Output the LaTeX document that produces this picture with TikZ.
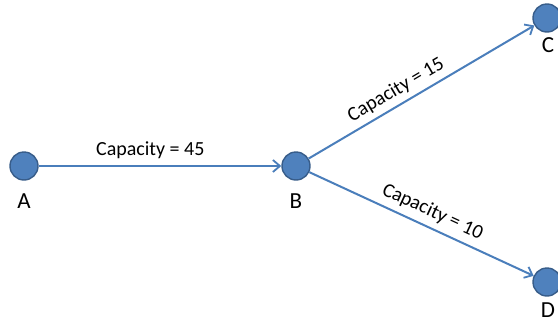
\documentclass[tikz,border=0pt]{standalone}
\usepackage{fontspec}
\setmainfont{Carlito}
\usetikzlibrary{arrows.meta}
\definecolor{nodefill}{HTML}{4F81BD}
\definecolor{nodeedge}{HTML}{385D8A}
\definecolor{edgecol}{HTML}{4A7EBB}
\tikzset{
  vert/.style={circle, fill=nodefill, draw=nodeedge, line width=1.4pt, minimum size=28pt, inner sep=0pt},
  vlabel/.style={font=\fontsize{23}{25}\selectfont, text=black},
  flow/.style={draw=edgecol, line width=2pt, -{Straight Barb[length=7pt,width=12pt,line width=1.8pt]}},
  caplabel/.style={font=\fontsize{20}{22}\selectfont, text=black, inner sep=2pt}
}
\begin{document}
\begin{tikzpicture}[x=1pt,y=1pt]
\useasboundingbox (0,0) rectangle (558,-327);
\node[vert] (A) at (24,-166) {};
\node[vert] (B) at (296,-166) {};
\node[vert] (C) at (547,-18) {};
\node[vert] (D) at (547,-282) {};
\node[vlabel] (lA) at (24,-201) {A};
\node[vlabel] (lB) at (296,-201) {B};
\node[vlabel] (lC) at (548,-45) {C};
\node[vlabel] (lD) at (548,-310) {D};
\draw[flow] (A) -- node[caplabel, above=4pt, pos=0.46] {Capacity = 45} (B);
\draw[flow] (B) -- node[caplabel, sloped, above=3pt, pos=0.42] {Capacity = 15} (C);
\draw[flow] (B) -- node[caplabel, sloped, above=4pt, pos=0.52] {Capacity = 10} (D);
\end{tikzpicture}
\end{document}
